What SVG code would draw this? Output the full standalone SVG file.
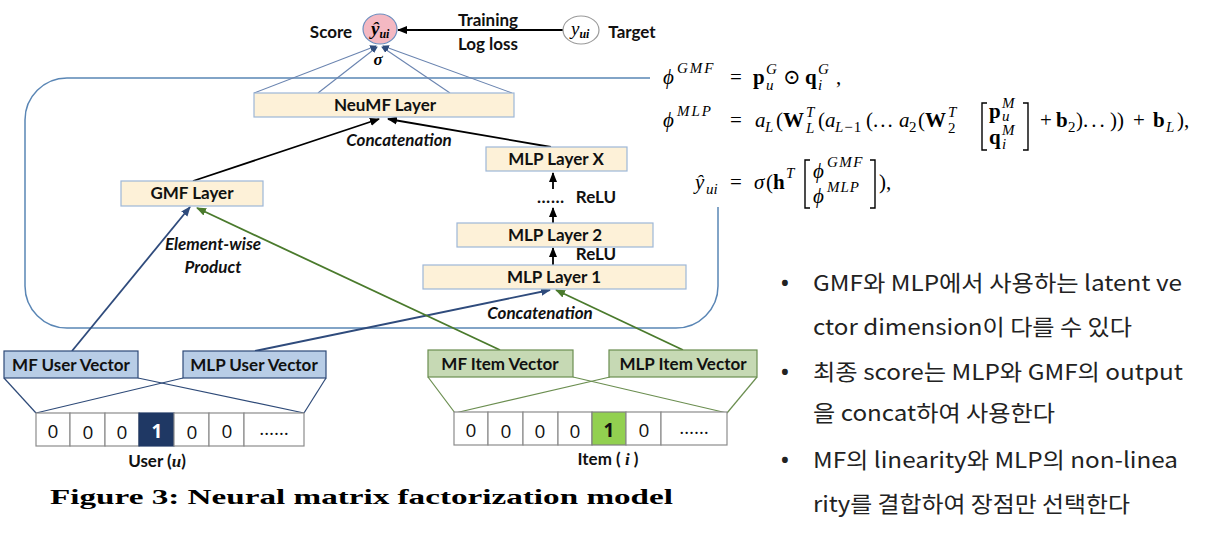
<svg xmlns="http://www.w3.org/2000/svg" width="1212" height="542" viewBox="0 0 1212 542">
<defs>
<marker id="ah-k" markerWidth="10" markerHeight="10" refX="9" refY="5" orient="auto" markerUnits="userSpaceOnUse"><path d="M0,1 L10,5 L0,9 Z" fill="#000"/></marker>
<marker id="ah-b" markerWidth="10" markerHeight="10" refX="9" refY="5" orient="auto" markerUnits="userSpaceOnUse"><path d="M0,1 L10,5 L0,9 Z" fill="#2f4b7c"/></marker>
<marker id="ah-g" markerWidth="10" markerHeight="10" refX="9" refY="5" orient="auto" markerUnits="userSpaceOnUse"><path d="M0,1 L10,5 L0,9 Z" fill="#4a7a2c"/></marker>
<marker id="ah-s" markerWidth="7" markerHeight="7" refX="6" refY="3.5" orient="auto" markerUnits="userSpaceOnUse"><path d="M0,0.5 L7,3.5 L0,6.5 Z" fill="#2f4b7c"/></marker>
</defs>
<style>
.lbl{font-family:Lato,"Open Sans","Liberation Sans",sans-serif;font-weight:bold;font-size:17px;fill:#111;text-anchor:middle}
.it{font-style:italic}
.layer{fill:#fdf1d8;stroke:#9db7d8;stroke-width:1.2}
.uvec{fill:#b8cde6;stroke:#2e4a78;stroke-width:1.2}
.ivec{fill:#c6d9b4;stroke:#6b8e50;stroke-width:1.2}
.cell{fill:#fff;stroke:#8c8c8c;stroke-width:1.2}
.dig{font-family:"Open Sans","Liberation Sans",sans-serif;font-size:19px;fill:#111;text-anchor:middle}
.m{font-family:"Liberation Serif","DejaVu Serif",serif;font-size:21px;fill:#000}
.mi{font-family:"Liberation Serif","DejaVu Serif",serif;font-size:21px;font-style:italic;fill:#000}
.mb{font-family:"Liberation Serif","DejaVu Serif",serif;font-size:21px;font-weight:bold;fill:#000}
.ms{font-family:"Liberation Serif","DejaVu Serif",serif;font-size:15px;font-style:italic;fill:#000}
.msr{font-family:"Liberation Serif","DejaVu Serif",serif;font-size:15px;font-style:normal;fill:#000}
.br{fill:none;stroke:#000;stroke-width:1.4}
.kr{font-family:"Noto Sans CJK KR","Noto Sans",sans-serif;font-size:22px;fill:#222}
.bul{font-family:"Noto Sans","DejaVu Sans",sans-serif;font-size:26px;fill:#222}
.ck{stroke:#000;stroke-width:1.8;fill:none}
.cb{stroke:#2f4b7c;stroke-width:1.8;fill:none}
.cg{stroke:#4a7a2c;stroke-width:1.8;fill:none}
.cu{stroke:#2e4a78;stroke-width:1.2;fill:none}
.ci{stroke:#6b8e50;stroke-width:1.2;fill:none}
.fan{stroke:#6a84b0;stroke-width:1.1;fill:none}
</style>

<!-- container -->
<rect id="container" x="25" y="78" width="693" height="250" rx="42" ry="42" fill="none" stroke="#5a86b5" stroke-width="1.5"/>

<g id="connectors">
<line class="fan" x1="254" y1="93" x2="376" y2="46" marker-end="url(#ah-s)"/>
<line class="fan" x1="318" y1="93" x2="377" y2="47" marker-end="url(#ah-s)"/>
<line class="fan" x1="450" y1="93" x2="382" y2="47" marker-end="url(#ah-s)"/>
<line class="fan" x1="512" y1="93" x2="383" y2="46" marker-end="url(#ah-s)"/>
<line class="ck" x1="563" y1="30" x2="398" y2="30" marker-end="url(#ah-k)"/>
<line class="ck" x1="193" y1="181" x2="379" y2="119" marker-end="url(#ah-k)"/>
<line class="ck" x1="551" y1="147" x2="388" y2="119" marker-end="url(#ah-k)"/>
<line class="ck" x1="553" y1="189" x2="553" y2="173" marker-end="url(#ah-k)"/>
<line class="ck" x1="553" y1="223" x2="553" y2="208" marker-end="url(#ah-k)"/>
<line class="ck" x1="553" y1="265" x2="553" y2="248" marker-end="url(#ah-k)"/>
<line class="cb" x1="72" y1="351" x2="190" y2="207" marker-end="url(#ah-b)"/>
<line class="cb" x1="255" y1="351" x2="550" y2="290" marker-end="url(#ah-b)"/>
<line class="cg" x1="500" y1="350" x2="197" y2="208" marker-end="url(#ah-g)"/>
<line class="cg" x1="683" y1="350" x2="556" y2="290" marker-end="url(#ah-g)"/>
<line class="cu" x1="4" y1="378" x2="36" y2="413"/>
<line class="cu" x1="138" y1="378" x2="304" y2="413"/>
<line class="cu" x1="183" y1="378" x2="36" y2="413"/>
<line class="cu" x1="326" y1="378" x2="304" y2="413"/>
<line class="ci" x1="428" y1="377" x2="455" y2="413"/>
<line class="ci" x1="573" y1="377" x2="727" y2="413"/>
<line class="ci" x1="610" y1="377" x2="455" y2="413"/>
<line class="ci" x1="757" y1="377" x2="727" y2="413"/>
</g>

<g id="score">
<ellipse cx="380" cy="29" rx="17" ry="15" fill="#f4b8c2" stroke="#6c8ebf" stroke-width="1.2"/>
<text x="371" y="35" font-family="Liberation Serif,serif" font-size="19" font-weight="bold" font-style="italic">ŷ<tspan font-size="12" dy="3">ui</tspan></text>
<text class="lbl" x="331" y="38">Score</text>
<text x="378" y="65" font-family="Liberation Serif,serif" font-size="17" font-weight="bold" font-style="italic" text-anchor="middle">σ</text>
</g>

<g id="target">
<ellipse cx="581" cy="30" rx="18" ry="14" fill="#fff" stroke="#9a9a9a" stroke-width="1.2"/>
<text x="571" y="35" font-family="Liberation Serif,serif" font-size="19" font-style="italic">y<tspan font-size="12" dy="3" font-weight="bold">ui</tspan></text>
<text class="lbl" x="632" y="38">Target</text>
</g>
<text class="lbl" x="488" y="26">Training</text>
<text class="lbl" x="488" y="50">Log loss</text>

<g id="neumf">
<rect class="layer" x="254" y="93" width="260" height="24"/>
<text class="lbl" x="385" y="111">NeuMF Layer</text>
</g>
<text class="lbl it" x="399" y="146">Concatenation</text>

<g id="gmf">
<rect class="layer" x="121" y="181" width="142" height="25"/>
<text class="lbl" x="192" y="199">GMF Layer</text>
</g>
<text class="lbl it" x="213" y="250">Element-wise</text>
<text class="lbl it" x="213" y="273">Product</text>

<g id="mlpx">
<rect class="layer" x="486" y="147" width="141" height="24"/>
<text class="lbl" x="556" y="165">MLP Layer X</text>
</g>
<text class="lbl" x="551" y="203" letter-spacing="1">……</text>
<text class="lbl" x="596" y="203" font-size="15">ReLU</text>

<g id="mlp2">
<rect class="layer" x="457" y="223" width="196" height="24"/>
<text class="lbl" x="555" y="241">MLP Layer 2</text>
</g>
<text class="lbl" x="596" y="260" font-size="15">ReLU</text>

<g id="mlp1">
<rect class="layer" x="423" y="265" width="263" height="24"/>
<text class="lbl" x="554" y="283">MLP Layer 1</text>
</g>
<text class="lbl it" x="540" y="319">Concatenation</text>

<g id="mf-user">
<rect class="uvec" x="4" y="351" width="134" height="27"/>
<text class="lbl" x="71" y="371">MF User Vector</text>
</g>
<g id="mlp-user">
<rect class="uvec" x="183" y="351" width="143" height="27"/>
<text class="lbl" x="254" y="371">MLP User Vector</text>
</g>
<g id="mf-item">
<rect class="ivec" x="428" y="350" width="145" height="27"/>
<text class="lbl" x="500" y="370">MF Item Vector</text>
</g>
<g id="mlp-item">
<rect class="ivec" x="609" y="350" width="148" height="27"/>
<text class="lbl" x="683" y="370">MLP Item Vector</text>
</g>

<g id="user-onehot">
<rect class="cell" x="36" y="413" width="34" height="33"/>
<rect class="cell" x="70" y="413" width="35" height="33"/>
<rect class="cell" x="105" y="413" width="34" height="33"/>
<rect x="139" y="413" width="35" height="33" fill="#1f3864" stroke="#1f3864" stroke-width="1.2"/>
<rect class="cell" x="174" y="413" width="35" height="33"/>
<rect class="cell" x="209" y="413" width="35" height="33"/>
<rect class="cell" x="244" y="413" width="60" height="33"/>
<text class="dig" x="53" y="438">0</text>
<text class="dig" x="88" y="439">0</text>
<text class="dig" x="122" y="439">0</text>
<text class="dig" x="157" y="438" font-weight="bold" style="fill:#fff">1</text>
<text class="dig" x="192" y="439">0</text>
<text class="dig" x="227" y="438">0</text>
<text class="dig" x="274" y="435" font-size="15">……</text>
<text class="lbl" x="157" y="467">User (<tspan font-family="Liberation Serif,serif" font-style="italic">u</tspan>)</text>
</g>

<g id="item-onehot">
<rect class="cell" x="454" y="412" width="34" height="33"/>
<rect class="cell" x="488" y="412" width="35" height="33"/>
<rect class="cell" x="523" y="412" width="35" height="33"/>
<rect class="cell" x="558" y="412" width="34" height="33"/>
<rect x="592" y="412" width="34" height="33" fill="#92d050" stroke="#7f7f7f" stroke-width="1.2"/>
<rect class="cell" x="626" y="412" width="35" height="33"/>
<rect class="cell" x="661" y="412" width="66" height="33"/>
<text class="dig" x="471" y="437">0</text>
<text class="dig" x="506" y="438">0</text>
<text class="dig" x="540" y="438">0</text>
<text class="dig" x="575" y="438">0</text>
<text class="dig" x="609" y="437" font-weight="bold">1</text>
<text class="dig" x="644" y="437">0</text>
<text class="dig" x="694" y="434" font-size="15">……</text>
<text class="lbl" x="608" y="465">Item ( <tspan font-family="Liberation Serif,serif" font-style="italic">i</tspan> )</text>
</g>

<text x="50" y="504" font-family="Liberation Serif,serif" font-weight="bold" font-size="22" textLength="623" lengthAdjust="spacingAndGlyphs">Figure 3:  Neural matrix factorization model</text>

<!-- formulas -->
<rect x="650" y="55" width="550" height="152" fill="#fff"/>
<g id="formulas">
<!-- line 1 -->
<text class="mi" x="663" y="84">ϕ</text>
<text class="ms" x="677" y="73" letter-spacing="2">GMF</text>
<text class="m" x="730" y="84">=</text>
<text class="mb" x="753" y="84">p</text>
<text class="ms" x="766" y="74">G</text>
<text class="ms" x="766" y="90">u</text>
<text class="m" x="783" y="84">⊙</text>
<text class="mb" x="805" y="84">q</text>
<text class="ms" x="818" y="74">G</text>
<text class="ms" x="818" y="90">i</text>
<text class="m" x="836" y="84">,</text>
<!-- line 2 -->
<text class="mi" x="663" y="127">ϕ</text>
<text class="ms" x="677" y="116" letter-spacing="2">MLP</text>
<text class="m" x="730" y="127">=</text>
<text class="mi" x="755" y="127">a</text>
<text class="ms" x="765" y="132">L</text>
<text class="m" x="776" y="127">(</text>
<text class="mb" x="783" y="127">W</text>
<text class="ms" x="806" y="117">T</text>
<text class="ms" x="806" y="133">L</text>
<text class="m" x="818" y="127">(</text>
<text class="mi" x="825" y="127">a</text>
<text class="ms" x="835" y="132" letter-spacing="1">L<tspan class="msr">−1</tspan></text>
<text class="m" x="866" y="127">(</text>
<text class="m" x="873" y="127" letter-spacing="2">...</text>
<text class="mi" x="899" y="127">a</text>
<text class="msr" x="909" y="132">2</text>
<text class="m" x="918" y="127">(</text>
<text class="mb" x="925" y="127">W</text>
<text class="ms" x="948" y="117">T</text>
<text class="msr" x="948" y="133">2</text>
<path class="br" d="M987,103 L982,103 L982,150 L987,150"/>
<text class="mb" x="989" y="118">p</text>
<text class="ms" x="1002" y="108" font-size="13">M</text>
<text class="ms" x="1002" y="121" font-size="13">u</text>
<text class="mb" x="989" y="144">q</text>
<text class="ms" x="1002" y="135" font-size="13">M</text>
<text class="ms" x="1002" y="149" font-size="13">i</text>
<path class="br" d="M1023,103 L1028,103 L1028,150 L1023,150"/>
<text class="m" x="1040" y="127">+</text>
<text class="mb" x="1056" y="127">b</text>
<text class="msr" x="1068" y="132">2</text>
<text class="m" x="1076" y="127">)</text>
<text class="m" x="1083" y="127" letter-spacing="3">...</text>
<text class="m" x="1110" y="127">))</text>
<text class="m" x="1133" y="127">+</text>
<text class="mb" x="1153" y="127">b</text>
<text class="ms" x="1166" y="132">L</text>
<text class="m" x="1177" y="127">),</text>
<!-- line 3 -->
<text class="mi" x="695" y="189">ŷ</text>
<text class="ms" x="706" y="194">ui</text>
<text class="m" x="730" y="189">=</text>
<text class="mi" x="754" y="189">σ</text>
<text class="m" x="766" y="189">(</text>
<text class="mb" x="773" y="189">h</text>
<text class="ms" x="786" y="178">T</text>
<path class="br" d="M810,160 L805,160 L805,208 L810,208"/>
<text class="mi" x="813" y="178">ϕ</text>
<text class="ms" x="827" y="167" letter-spacing="1.5">GMF</text>
<text class="mi" x="813" y="203">ϕ</text>
<text class="ms" x="827" y="192" letter-spacing="1">MLP</text>
<path class="br" d="M870,160 L875,160 L875,208 L870,208"/>
<text class="m" x="879" y="189">),</text>
</g>

<g id="notes">
<text class="bul" x="780" y="292">•</text>
<text class="kr" x="813" y="291" textLength="369" lengthAdjust="spacingAndGlyphs">GMF와 MLP에서 사용하는 latent ve</text>
<text class="kr" x="813" y="335" textLength="319" lengthAdjust="spacingAndGlyphs">ctor dimension이 다를 수 있다</text>
<text class="bul" x="780" y="381">•</text>
<text class="kr" x="813" y="380" textLength="370" lengthAdjust="spacingAndGlyphs">최종 score는 MLP와 GMF의 output</text>
<text class="kr" x="813" y="421" textLength="242" lengthAdjust="spacingAndGlyphs">을 concat하여 사용한다</text>
<text class="bul" x="780" y="469">•</text>
<text class="kr" x="813" y="468" textLength="365" lengthAdjust="spacingAndGlyphs">MF의 linearity와 MLP의 non-linea</text>
<text class="kr" x="813" y="512" textLength="317" lengthAdjust="spacingAndGlyphs">rity를 결합하여 장점만 선택한다</text>
</g>
</svg>
